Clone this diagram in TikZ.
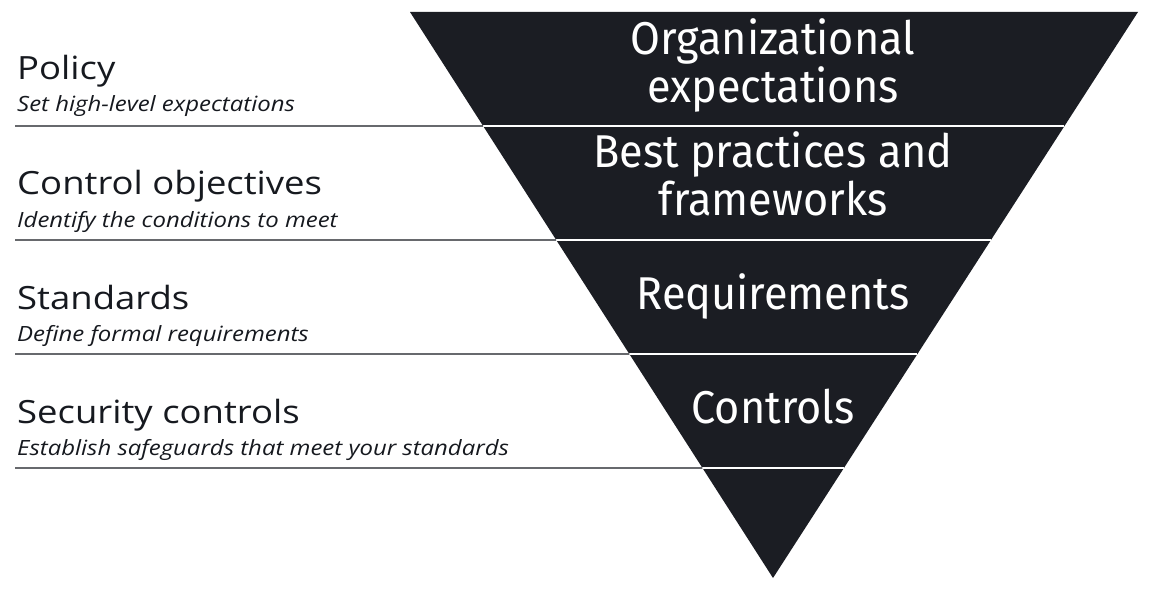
\documentclass[tikz,border=0pt]{standalone}
\usepackage{fontspec}
\setmainfont{Open Sans}[FakeStretch=1.14]
\newfontfamily\bandfont{Fira Sans}[FakeStretch=0.94]
\usetikzlibrary{calc}
\definecolor{funnel}{HTML}{1B1D23}
\definecolor{ink}{HTML}{16191F}

\begin{document}
\begin{tikzpicture}[x=1pt, y=-1pt,
		title/.style = {anchor=base west, inner sep=0pt, text=ink, font=\fontsize{32}{36}\selectfont},
		sub/.style = {anchor=base west, inner sep=0pt, text=ink, font=\itshape\fontsize{21}{26}\selectfont},
		band/.style = {anchor=base, inner sep=0pt, text=white, align=center, font=\bandfont\fontsize{46}{48}\selectfont},
		divider/.style = {draw=white, line width=1.5pt},
		leader/.style = {draw=ink, line width=1.2pt}]
	\useasboundingbox (0,0) rectangle (1152,591);
	% the funnel
	\coordinate (tl) at (410,12);
	\coordinate (tr) at (1138,12);
	\coordinate (bt) at (773,578);
	\fill[funnel] (tl) -- (tr) -- (bt) -- cycle;
	\foreach \k in {1,...,4} {
		\coordinate (l\k) at ($(tl)!{\k*114/566}!(bt)$);
		\coordinate (r\k) at ($(tr)!{\k*114/566}!(bt)$);
		\coordinate (m\k) at (15,{12+\k*114});
		\path[divider] (l\k) -- (r\k);
		\path[leader] (m\k) -- (l\k);
	}
	% left labels
	\node[title] (policy) at (17,80) {Policy};
	\node[sub] (policysub) at (17,112) {Set high-level expectations};
	\node[title] (objectives) at (17,195) {Control objectives};
	\node[sub] (objectivessub) at (17,227) {Identify the conditions to meet};
	\node[title] (standards) at (17,309) {Standards};
	\node[sub] (standardssub) at (17,341) {Define formal requirements};
	\node[title] (security) at (17,423) {Security controls};
	\node[sub] (securitysub) at (17,455) {Establish safeguards that meet your standards};
	% funnel labels (base = last line)
	\node[band] (org) at (773,103) {Organizational\\expectations};
	\node[band] (best) at (773,215) {Best practices and\\frameworks};
	\node[band] (req) at (773,309) {Requirements};
	\node[band] (ctrl) at (773,423) {Controls};
\end{tikzpicture}
\end{document}
